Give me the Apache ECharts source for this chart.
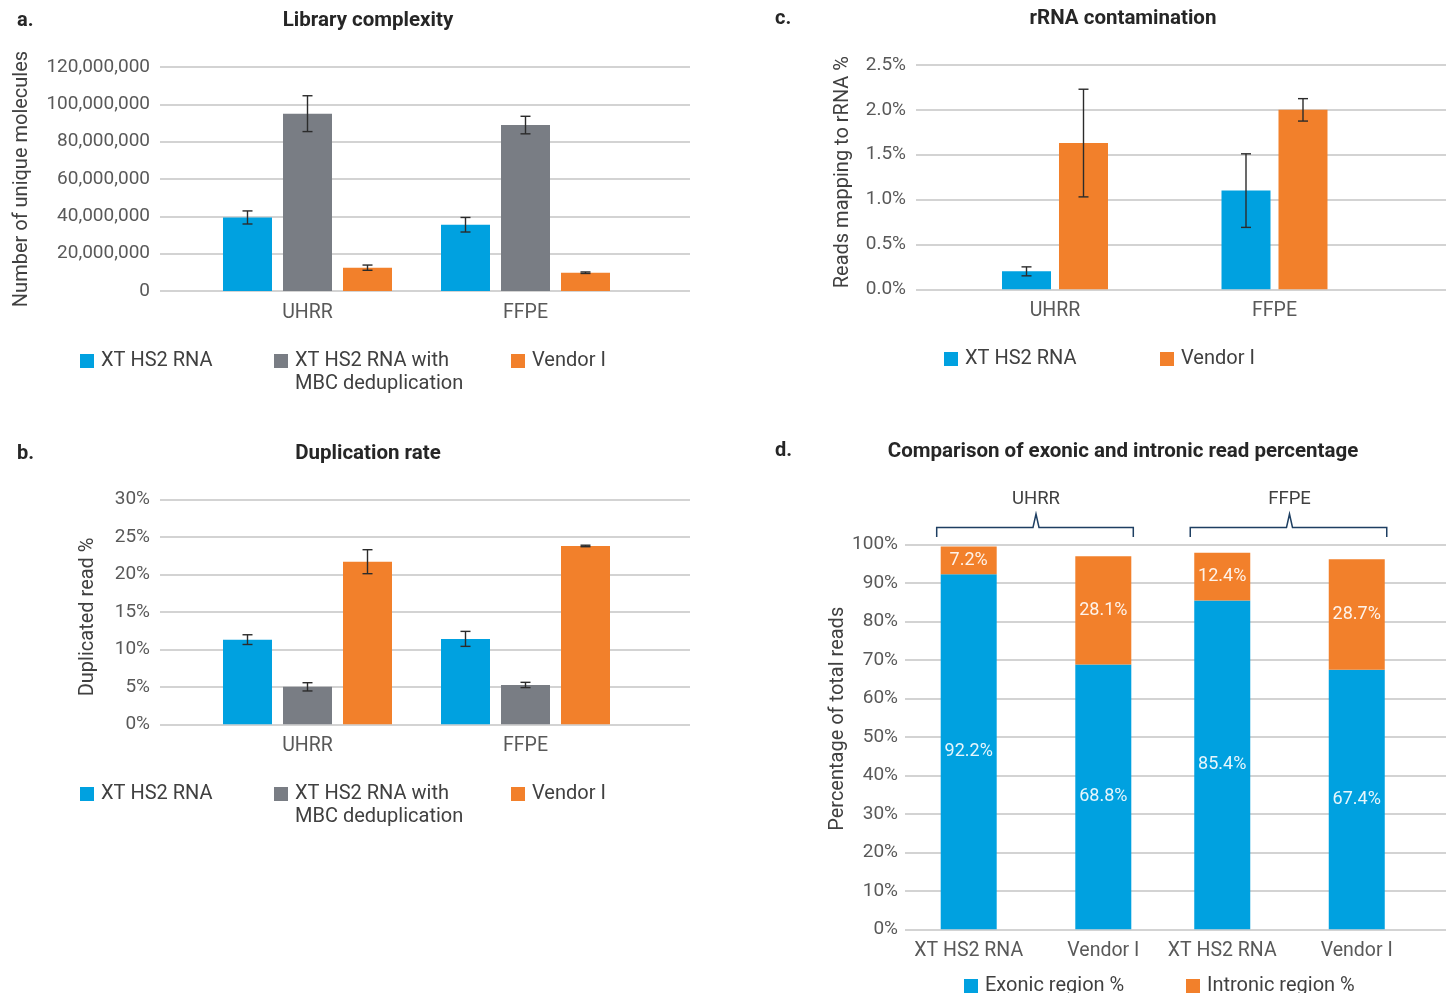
<!DOCTYPE html>
<html>
<head>
<meta charset="utf-8">
<script src="https://cdn.jsdelivr.net/npm/echarts@6/dist/echarts.min.js"></script>
<style>
  html, body { margin: 0; padding: 0; background: #fff; }
  #main { width: 1455px; height: 993px; }
</style>
</head>
<body>
<div id="main"></div>
<script>
// categories
const groups = ['UHRR', 'FFPE']
const methods = ['XT HS2 RNA', 'XT HS2 RNA with MBC deduplication', 'Vendor I']

// a. library complexity (unique molecules)
const complexityXt = [39400000, 35500000]
const complexityXtErr = [3500000, 3900000]
const complexityMbc = [95000000, 88900000]
const complexityMbcErr = [9600000, 4700000]
const complexityVendor = [12500000, 9800000]
const complexityVendorErr = [1400000, 400000]

// b. duplication rate (%)
const dupXt = [11.3, 11.4]
const dupXtErr = [0.65, 1.0]
const dupMbc = [5.0, 5.25]
const dupMbcErr = [0.55, 0.35]
const dupVendor = [21.7, 23.8]
const dupVendorErr = [1.6, 0.1]

// c. rRNA contamination (%)
const rrnaXt = [0.2, 1.1]
const rrnaXtErr = [0.05, 0.41]
const rrnaVendor = [1.63, 2.0]
const rrnaVendorErr = [0.6, 0.125]

// d. exonic / intronic (%)
const samples = ['XT HS2 RNA', 'Vendor I', 'XT HS2 RNA', 'Vendor I']
const sampleGroups = ['UHRR', 'UHRR', 'FFPE', 'FFPE']
const exonic = [92.2, 68.8, 85.4, 67.4]
const intronic = [7.2, 28.1, 12.4, 28.7]

const blue = '#00a1e0'
const gray = '#797d84'
const orange = '#f2802b'
const font = 'Roboto'
const tickColor = '#595959'
const gridColor = '#c4c4c4'

const chart = echarts.init(document.getElementById('main'))

const bgX = (gridIndex) => ({ type: 'value', gridIndex, min: 0, max: 1, show: false })
const catX = (gridIndex, data) => ({
  type: 'category', gridIndex, data,
  axisLine: { show: false }, axisTick: { show: false },
  axisLabel: { interval: 0, color: tickColor, fontFamily: font, fontSize: 19.5, margin: 12 }
})
const bgY = (gridIndex, min, max, interval, formatter, name, nameGap, namePad, margin) => ({
  type: 'value', gridIndex, min, max, interval,
  name, nameLocation: 'middle', nameGap,
  nameTextStyle: { color: '#404040', fontFamily: font, fontSize: 20, padding: namePad },
  axisLine: { show: false }, axisTick: { show: false },
  axisLabel: { color: tickColor, fontFamily: font, fontSize: 19, margin, formatter },
  splitLine: { lineStyle: { color: gridColor, width: 1.5 } }
})
const hiddenY = (gridIndex, min, max) => ({ type: 'value', gridIndex, min, max, show: false })

const bar = (name, xIdx, color, data, barGap) => ({
  type: 'bar', name, xAxisIndex: xIdx, yAxisIndex: xIdx,
  data, barWidth: 49, barGap, itemStyle: { color }
})

const errorBars = (xIdx, values, errs, offset) => ({
  type: 'custom', name: 'err', xAxisIndex: xIdx, yAxisIndex: xIdx, z: 10, silent: true,
  data: values.map((v, i) => [i, v, errs[i]]),
  encode: { x: 0, y: 1 },
  renderItem: (params, api) => {
    const c = api.value(0), v = api.value(1), e = api.value(2)
    const x = api.coord([c, v])[0] + offset
    const yt = api.coord([c, v + e])[1]
    const yb = api.coord([c, v - e])[1]
    const s = { stroke: '#2b2b2b', lineWidth: 1.4 }
    return {
      type: 'group',
      children: [
        { type: 'line', shape: { x1: x, y1: yt, x2: x, y2: yb }, style: s },
        { type: 'line', shape: { x1: x - 5, y1: yt, x2: x + 5, y2: yt }, style: s },
        { type: 'line', shape: { x1: x - 5, y1: yb, x2: x + 5, y2: yb }, style: s }
      ]
    }
  }
})

// the long legend name wraps; first line goes in the legend, second line is drawn below it
const legendItem = (name, left, top, firstLine) => ({
  data: [name], left, top, padding: 0,
  icon: 'rect', itemWidth: 14, itemHeight: 14,
  selectedMode: false,
  formatter: firstLine ? () => firstLine : undefined,
  textStyle: { color: '#404040', fontFamily: font, fontSize: 20, padding: [0, 0, 0, 2] }
})

const numFmt = (v) => v.toLocaleString('en-US')

const option = {
  animation: false,
  backgroundColor: '#fff',
  grid: [
    { left: 160, top: 67, width: 530, height: 224 },
    { left: 198.5, top: 67, width: 436, height: 224 },
    { left: 160, top: 499.5, width: 530, height: 224.8 },
    { left: 198.5, top: 499.5, width: 436, height: 224.8 },
    { left: 916, top: 65, width: 530, height: 224.3 },
    { left: 945.25, top: 65, width: 439, height: 224.3 },
    { left: 905, top: 544.3, width: 541, height: 385 },
    { left: 901.4, top: 544.3, width: 269.2, height: 385 },
    { left: 1155, top: 544.3, width: 269, height: 385 }
  ],
  xAxis: [
    bgX(0), catX(1, groups),
    bgX(2), catX(3, groups),
    bgX(4), catX(5, groups),
    bgX(6), catX(7, samples.slice(0, 2)), catX(8, samples.slice(2, 4))
  ],
  yAxis: [
    bgY(0, 0, 120000000, 20000000, numFmt, 'Number of unique molecules', 128, [0, 0, 0, 0], 10),
    hiddenY(1, 0, 120000000),
    bgY(2, 0, 30, 5, '{value}%', 'Duplicated read %', 62, [0, 10, 0, 0], 10),
    hiddenY(3, 0, 30),
    bgY(4, 0, 2.5, 0.5, (v) => v.toFixed(1) + '%', 'Reads mapping to rRNA %', 63, [0, 0, 0, 10], 10),
    hiddenY(5, 0, 2.5),
    bgY(6, 0, 100, 10, '{value}%', 'Percentage of total reads', 53, [0, 0, 0, 36], 7),
    hiddenY(7, 0, 100),
    hiddenY(8, 0, 100)
  ],
  legend: [
    legendItem(methods[0], 80, 351),
    legendItem(methods[1], 274, 351, 'XT HS2 RNA with'),
    legendItem(methods[2], 511, 351),
    legendItem(methods[0], 80, 784),
    legendItem(methods[1], 274, 784, 'XT HS2 RNA with'),
    legendItem(methods[2], 511, 784),
    legendItem(methods[0], 944, 349),
    legendItem(methods[2], 1160, 349),
    legendItem('Exonic region %', 964, 976),
    legendItem('Intronic region %', 1186, 976)
  ],
  series: [
    bar(methods[0], 1, blue, complexityXt, '22.45%'),
    bar(methods[1], 1, gray, complexityMbc, '22.45%'),
    bar(methods[2], 1, orange, complexityVendor, '22.45%'),
    errorBars(1, complexityXt, complexityXtErr, -60),
    errorBars(1, complexityMbc, complexityMbcErr, 0),
    errorBars(1, complexityVendor, complexityVendorErr, 60),

    bar(methods[0], 3, blue, dupXt, '22.45%'),
    bar(methods[1], 3, gray, dupMbc, '22.45%'),
    bar(methods[2], 3, orange, dupVendor, '22.45%'),
    errorBars(3, dupXt, dupXtErr, -60),
    errorBars(3, dupMbc, dupMbcErr, 0),
    errorBars(3, dupVendor, dupVendorErr, 60),

    bar(methods[0], 5, blue, rrnaXt, '16.3%'),
    bar(methods[2], 5, orange, rrnaVendor, '16.3%'),
    errorBars(5, rrnaXt, rrnaXtErr, -28.5),
    errorBars(5, rrnaVendor, rrnaVendorErr, 28.5)
  ]
}

// d. stacked bars, one grid per sample group
;[7, 8].forEach((xIdx, g) => {
  const sl = [g * 2, g * 2 + 2]
  const lbl = { show: true, position: 'inside', color: 'rgba(255,255,255,0.9)', fontFamily: font, fontSize: 18, formatter: (p) => p.value + '%' }
  option.series.push({
    type: 'bar', name: 'Exonic region %', xAxisIndex: xIdx, yAxisIndex: xIdx, stack: 'd' + g,
    barWidth: 56, data: exonic.slice(...sl), itemStyle: { color: blue }, label: lbl
  })
  option.series.push({
    type: 'bar', name: 'Intronic region %', xAxisIndex: xIdx, yAxisIndex: xIdx, stack: 'd' + g,
    barWidth: 56, data: intronic.slice(...sl), itemStyle: { color: orange }, label: lbl
  })
})

chart.setOption(option)

// titles, panel letters, wrapped legend line and group brackets for panel d
const titleStyle = { fill: '#262626', font: 'bold 20.5px Roboto', textAlign: 'center', textVerticalAlign: 'middle' }
const letterStyle = { fill: '#262626', font: 'bold 20px Roboto', textAlign: 'left', textVerticalAlign: 'middle' }
const legendLine2 = { fill: '#404040', font: '20px Roboto', textAlign: 'left', textVerticalAlign: 'middle', text: 'MBC deduplication' }
const graphics = [
  { type: 'text', x: 17, y: 21, style: { ...letterStyle, text: 'a.' } },
  { type: 'text', x: 368, y: 21, style: { ...titleStyle, text: 'Library complexity' } },
  { type: 'text', x: 17, y: 454, style: { ...letterStyle, text: 'b.' } },
  { type: 'text', x: 368, y: 454, style: { ...titleStyle, text: 'Duplication rate' } },
  { type: 'text', x: 775, y: 19, style: { ...letterStyle, text: 'c.' } },
  { type: 'text', x: 1123, y: 19, style: { ...titleStyle, text: 'rRNA contamination' } },
  { type: 'text', x: 775, y: 451, style: { ...letterStyle, text: 'd.' } },
  { type: 'text', x: 1123, y: 452, style: { ...titleStyle, text: 'Comparison of exonic and intronic read percentage' } },
  { type: 'text', x: 295, y: 384, style: legendLine2 },
  { type: 'text', x: 295, y: 817, style: legendLine2 }
]

const xs = samples.map((s, i) => chart.convertToPixel({ xAxisIndex: i < 2 ? 7 : 8 }, i % 2))
groups.forEach((name, g) => {
  const idx = sampleGroups.map((s, i) => s === name ? i : -1).filter((i) => i >= 0)
  const left = xs[idx[0]] - 32
  const right = xs[idx[idx.length - 1]] + 30
  const mid = (xs[idx[0]] + xs[idx[idx.length - 1]]) / 2
  graphics.push({
    type: 'polyline', silent: true,
    shape: { points: [[left, 537], [left, 527.5], [mid - 3, 527.5], [mid, 514], [mid + 3, 527.5], [right, 527.5], [right, 537]] },
    style: { stroke: '#1e3f62', lineWidth: 1.5, fill: null }
  })
  graphics.push({
    type: 'text', x: mid, y: 499,
    style: { text: name, fill: '#404040', font: '18.5px Roboto', textAlign: 'center', textVerticalAlign: 'middle' }
  })
})

chart.setOption({ graphic: graphics })
</script>
</body>
</html>
